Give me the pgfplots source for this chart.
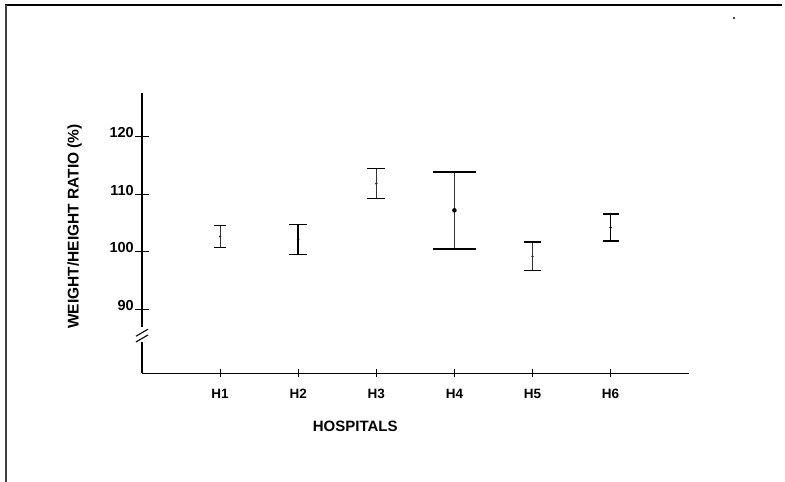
\documentclass[border=0pt]{standalone}
\usepackage{fontspec}
\setmainfont{Liberation Sans}
\usepackage{pgfplots}
\pgfplotsset{compat=1.18}
\begin{document}
\begin{tikzpicture}
\path[use as bounding box] (0,0) rectangle (785pt,482pt);
\draw[line width=2.2pt] (5pt,477pt) -- (782pt,477pt);
\draw[line width=1.6pt, black!75] (6pt,477pt) -- (6pt,0pt);
\fill (734pt,464pt) circle (1.2pt);
\begin{axis}[
  at={(142pt,108.5pt)}, anchor=south west,
  scale only axis, width=546.7pt, height=280.2pt,
  xmin=0, xmax=7, ymin=78.82, ymax=127.55,
  axis lines*=left,
  axis line style={line width=1.3pt},
  clip=false,
  tick align=center,
  major tick length=14pt,
  every tick/.style={line width=1.1pt, black},
  /pgf/number format/assume math mode=true,
  ytick={90,100,110,120},
  yticklabel style={font=\fontsize{14.5}{16}\selectfont\bfseries, yshift=4pt, inner sep=1pt},
  xtick=\empty,
  extra x ticks={1,2,3,4,5,6},
  extra x tick labels={H1,H2,H3,H4,H5,H6},
  extra x tick style={major tick length=8pt, tick align=center,
    tick label style={font=\fontsize{13.5}{15}\selectfont\bfseries, text height=9.7pt, text depth=0pt, yshift=-8pt}},
  xlabel={HOSPITALS},
  xlabel style={font=\fontsize{15}{17}\selectfont\bfseries, at={(rel axis cs:0.39,0)}, anchor=center, yshift=-52.5pt},
  ylabel={WEIGHT/HEIGHT RATIO (\%)},
  ylabel style={font=\fontsize{15.5}{17}\selectfont\bfseries, at={(rel axis cs:0,0.525)}, anchor=center, yshift=67.5pt},
]
% H1
\addplot[black!80, only marks, mark=*, mark size=1pt,
  error bars/.cd, y dir=both, y explicit, error mark=|,
  error bar style={line width=0.9pt, black!80},
  error mark options={mark size=6.3pt, line width=1.5pt, black}]
  coordinates {(1,102.65) +- (0,1.95)};
% H2
\addplot[black, only marks, mark=*, mark size=1pt,
  error bars/.cd, y dir=both, y explicit, error mark=|,
  error bar style={line width=1.4pt, black},
  error mark options={mark size=8.8pt, line width=1.5pt, black}]
  coordinates {(2,102.16) +- (0,2.61)};
% H3
\addplot[black!80, only marks, mark=*, mark size=1pt,
  error bars/.cd, y dir=both, y explicit, error mark=|,
  error bar style={line width=0.9pt, black!80},
  error mark options={mark size=9pt, line width=1.5pt, black}]
  coordinates {(3,111.86) +- (0,2.64)};
% H4
\addplot[black, only marks, mark=*, mark size=2pt,
  error bars/.cd, y dir=both, y explicit, error mark=|,
  error bar style={line width=0.9pt, black!80},
  error mark options={mark size=21.7pt, line width=1.5pt, black}]
  coordinates {(4,107.2) +- (0,6.7)};
% H5
\addplot[black!80, only marks, mark=*, mark size=1pt,
  error bars/.cd, y dir=both, y explicit, error mark=|,
  error bar style={line width=0.9pt, black!80},
  error mark options={mark size=8.7pt, line width=1.5pt, black}]
  coordinates {(5,99.2) +- (0,2.5)};
% H6
\addplot[black, only marks, mark=*, mark size=1pt,
  error bars/.cd, y dir=both, y explicit, error mark=|,
  error bar style={line width=1.4pt, black},
  error mark options={mark size=8pt, line width=1.5pt, black}]
  coordinates {(6,104.21) +- (0,2.35)};
% y-axis break
\fill[white] ([xshift=-4pt]axis cs:0,84.3) rectangle ([xshift=4pt]axis cs:0,86.9);
\draw[line width=1.1pt] ([xshift=-6pt,yshift=-4pt]axis cs:0,86.0) -- ([xshift=6pt,yshift=3pt]axis cs:0,86.0);
\draw[line width=1.1pt] ([xshift=-6pt,yshift=-4pt]axis cs:0,85.0) -- ([xshift=6pt,yshift=3pt]axis cs:0,85.0);
\end{axis}
\end{tikzpicture}
\end{document}
